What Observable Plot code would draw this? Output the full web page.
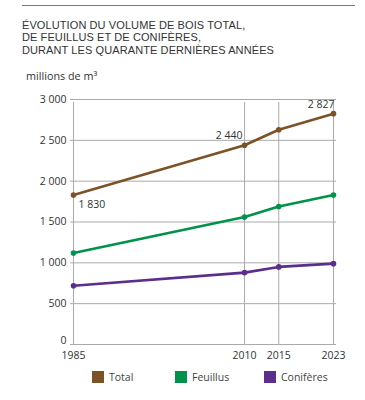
<!DOCTYPE html>
<html><head><meta charset="utf-8">
<script src="https://cdn.jsdelivr.net/npm/d3@7"></script>
<script src="https://cdn.jsdelivr.net/npm/@observablehq/plot@0.6"></script>
<style>
body{margin:0;background:#fff;font-family:"Open Sans",sans-serif;color:#333;}
#wrap{position:relative;width:365px;height:400px;overflow:hidden;}
#rule{position:absolute;left:22px;top:5px;width:333px;height:0;border-top:1px solid #777;}
.tl{position:absolute;left:22px;font-family:"Liberation Sans",Arial,sans-serif;font-size:11px;line-height:12.4px;height:12.4px;color:#333;white-space:nowrap;}
#unit{position:absolute;left:26px;top:70px;font-size:10.8px;line-height:12px;color:#333;}
#chart{position:absolute;left:0;top:0;}
#legend{position:absolute;left:0;top:370px;width:365px;font-size:10.5px;color:#444;}
.li{position:absolute;top:0;display:flex;align-items:center;height:13px;}
.sw{width:12px;height:12px;margin-right:5px;}
</style></head>
<body><div id="wrap">
<div id="rule"></div>
<div class="tl" style="top:18.5px">ÉVOLUTION DU VOLUME DE BOIS TOTAL,</div>
<div class="tl" style="top:31px">DE FEUILLUS ET DE CONIFÈRES,</div>
<div class="tl" style="top:43.5px">DURANT LES QUARANTE DERNIÈRES ANNÉES</div>
<div id="unit">millions de m³</div>
<div id="chart"></div>
<div id="legend"></div>
</div>
<script>
const years = [1985, 2010, 2015, 2023];
const total = [1830, 2440, 2630, 2827];
const feuillus = [1120, 1560, 1690, 1830];
const coniferes = [720, 880, 950, 990];
const seriesNames = ["Total", "Feuillus", "Conifères"];
const seriesColors = ["#7c5226", "#00924a", "#5b2d8c"];
const yTicks = [0, 500, 1000, 1500, 2000, 2500, 3000];
const labelled = [
  {year: 1985, value: 1830, text: "1 830", anchor: "start", dx: 5, dy: 10},
  {year: 2010, value: 2440, text: "2 440", anchor: "end", dx: -2, dy: -10},
  {year: 2023, value: 2827, text: "2 827", anchor: "end", dx: 1, dy: -9}
];

// fit title width to the reference's 252px line
(function () {
  const lines = document.querySelectorAll(".tl");
  const last = lines[lines.length - 1];
  const w = last.getBoundingClientRect().width;
  const n = last.textContent.length;
  const ls = Math.max(-0.5, Math.min(0.8, (252 - w) / n));
  lines.forEach(el => el.style.letterSpacing = ls + "px");
})();

const seriesValues = [total, feuillus, coniferes];
const data = [];
seriesNames.forEach((s, i) => years.forEach((y, j) => data.push({series: s, year: y, value: seriesValues[i][j]})));

const fmt = d => d3.format(",")(d).replace(/,/g, " ");

const chart = Plot.plot({
  width: 365, height: 365,
  marginTop: 99, marginBottom: 21, marginLeft: 73, marginRight: 29,
  insetRight: 3,
  style: {fontFamily: "Open Sans, sans-serif", fontSize: "10.5px", color: "#333", background: "transparent"},
  x: {domain: [1985, 2023], label: null},
  y: {domain: [0, 3000], label: null},
  color: {domain: seriesNames, range: seriesColors},
  marks: [
    Plot.ruleY(yTicks, {x1: 1985, x2: 2023, insetLeft: -3, insetRight: -3, stroke: "#aaa", strokeWidth: 1}),
    Plot.ruleX(years, {y1: 0, y2: 3000, insetBottom: -3, stroke: "#aaa", strokeWidth: 1}),
    Plot.axisY(yTicks.filter(d => d > 0), {tickSize: 0, tickPadding: 7, tickFormat: fmt, fontSize: 10.5, fill: "#333"}),
    Plot.axisY([0], {tickSize: 0, tickPadding: 7, tickFormat: fmt, fontSize: 10.5, fill: "#333", dy: -4}),
    Plot.axisX(years, {tickSize: 0, tickPadding: 7, tickFormat: d => String(d), fontSize: 10.5, fill: "#333"}),
    Plot.line(data, {x: "year", y: "value", z: "series", stroke: "series", strokeWidth: 2.6}),
    Plot.dot(data, {x: "year", y: "value", fill: "series", r: 2.8}),
    ...labelled.map(l => Plot.text([l], {x: "year", y: "value", text: "text", textAnchor: l.anchor, dx: l.dx, dy: l.dy, fontSize: 10.5, fill: "#333"}))
  ]
});
document.getElementById("chart").appendChild(chart);

const legend = document.getElementById("legend");
const lx = [92, 175, 264];
seriesNames.forEach((s, i) => {
  const el = document.createElement("div");
  el.className = "li";
  el.style.left = lx[i] + "px";
  el.innerHTML = `<div class="sw" style="background:${seriesColors[i]}"></div><span>${s}</span>`;
  legend.appendChild(el);
});
</script>
</body></html>
